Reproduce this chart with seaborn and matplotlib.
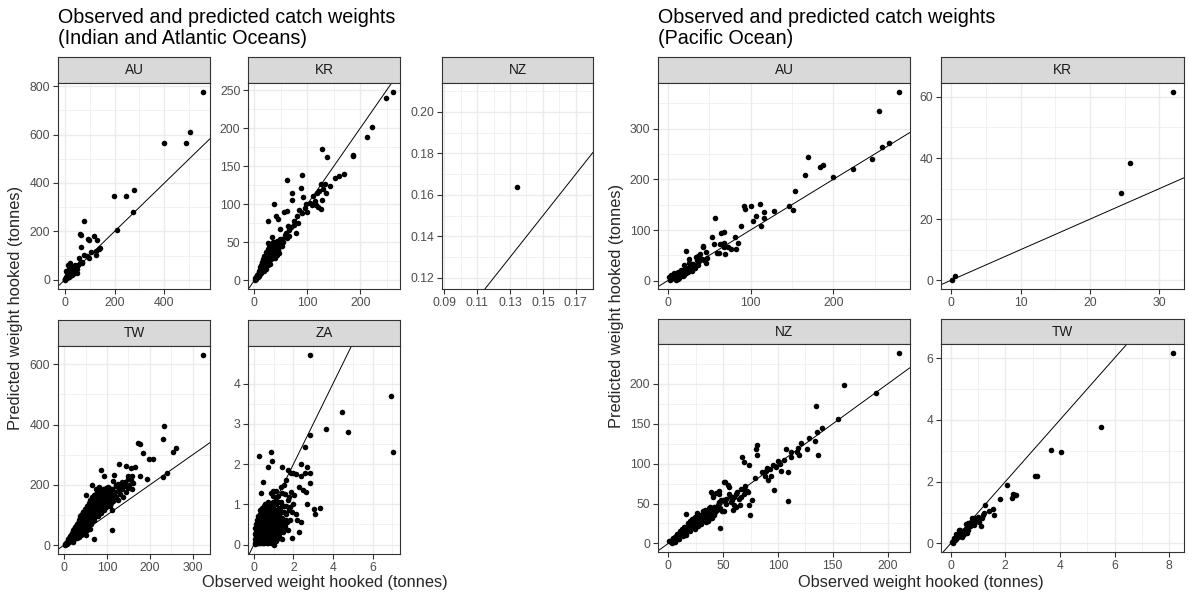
import numpy as np
import pandas as pd
import matplotlib
matplotlib.use("Agg")
import matplotlib.pyplot as plt
import seaborn as sns
from matplotlib.ticker import FixedLocator, FuncFormatter

# ---------------- DATA (observed, predicted in tonnes) ----------------
# Indian and Atlantic Oceans
ia_au_obs = [555, 397, 486, 501, 197, 245, 276, 273, 209, 78, 62, 64, 66, 92, 96, 118, 128, 78, 88, 99,
             139, 127, 126, 143, 107, 58, 69, 53, 20, 15, 45, 38, 30, 25, 20, 12, 8, 5, 3, 2, 10, 6, 28,
             35, 42, 50, 18, 22, 1, 4, 14, 32, 9, 12, 24, 60, 70, 40, 48, 16, 27]
ia_au_pred = [774, 566, 566, 609, 345, 345, 371, 279, 206, 243, 190, 186, 136, 168, 164, 181, 164, 102, 100, 89,
              127, 120, 102, 132, 116, 89, 75, 61, 68, 62, 55, 48, 40, 35, 28, 22, 15, 10, 5, 2, 30, 35, 20,
              30, 38, 45, 12, 18, 1, 8, 18, 25, 6, 35, 50, 70, 68, 60, 30, 45, 55]

ia_kr_obs = [1, 2, 3, 4, 5, 6, 7, 8, 9, 10, 10, 11, 12, 13, 14, 15, 16, 17, 18, 18, 19, 20, 21, 22, 22, 23, 24,
             25, 25, 26, 27, 28, 28, 29, 30, 30, 31, 32, 33, 34, 34, 35, 36, 37, 38, 39, 40, 41, 42, 43, 44,
             45, 46, 47, 48, 50, 52, 55, 33, 26,
             53, 61, 79, 48, 63, 44, 41, 26, 61, 56, 37, 71, 72, 61, 88, 90, 91, 110, 116, 128, 130, 136,
             134, 142, 152, 159, 170, 127, 138, 187, 187, 213, 223, 248, 262,
             60, 65, 70, 75, 80, 85, 90, 95, 100, 105, 115, 120, 125, 57, 66, 74, 82, 98, 108, 122, 125, 118]
ia_kr_pred = [1, 3, 2, 5, 7, 4, 9, 6, 12, 8, 14, 17, 10, 20, 13, 24, 16, 28, 12, 21, 32, 18, 26, 37, 15, 22, 30,
              41, 20, 34, 25, 44, 30, 37, 22, 48, 33, 28, 40, 45, 30, 36, 50, 32, 42, 29, 47, 38, 52, 34, 44,
              40, 48, 36, 55, 45, 54, 50, 57, 49,
              45, 56, 62, 67, 72, 80, 85, 78, 91, 90, 100, 106, 115, 132, 122, 138, 109, 111, 99, 106, 120, 115,
              127, 124, 134, 137, 140, 172, 162, 165, 163, 189, 202, 240, 247,
              62, 66, 70, 78, 85, 92, 88, 95, 90, 102, 104, 96, 94, 60, 58, 73, 76, 100, 99, 118, 126, 115]

ia_nz_obs = [0.1344]
ia_nz_pred = [0.164]

ia_tw_obs = [2, 3, 4, 5, 6, 7, 8, 9, 10, 10,
             12, 12, 13, 14, 15, 16, 16, 17, 18, 18, 19, 20, 20, 21,
             22, 22, 23, 24, 24, 25, 26, 26, 27, 28, 28, 29, 30, 30, 30,
             32, 32, 33, 34, 34, 35, 35, 36, 37, 38, 38, 39, 40, 40, 40,
             42, 42, 43, 44, 44, 45, 46, 46, 47, 48, 48, 49, 50, 50, 50,
             52, 52, 53, 54, 54, 55, 56, 56, 57, 58, 58, 59, 60, 60, 60,
             62, 62, 63, 64, 65, 65, 66, 67, 68, 68, 69, 70, 70, 70,
             72, 72, 74, 74, 75, 76, 77, 78, 78, 79, 80, 80, 80,
             82, 82, 84, 84, 85, 86, 87, 88, 88, 90, 90, 90,
             92, 93, 94, 95, 96, 97, 98, 99, 100, 100,
             102, 104, 105, 106, 108, 110, 110, 112, 114, 115,
             118, 120, 122, 125, 126, 130, 132, 135, 138, 140,
             142, 145, 148, 150, 152, 155, 158, 160,
             173, 176, 184, 198, 208, 233, 231, 260, 254, 231, 239, 194, 178, 157, 165, 129, 145, 158, 116,
             114, 125, 86, 94, 102, 106, 82, 74, 65, 52, 67, 111, 70, 32, 324, 111, 45, 38, 55, 60, 90, 100,
             120, 135, 150, 130]
ia_tw_pred = [2, 5, 3, 8, 5, 12, 7, 15, 9, 20,
              12, 25, 18, 30, 14, 22, 35, 28, 18, 40, 32, 24, 45, 12,
              30, 50, 38, 20, 55, 44, 28, 60, 48, 35, 65, 52, 25, 42, 70,
              58, 35, 75, 48, 28, 64, 85, 40, 55, 72, 90, 45, 62, 32, 100,
              80, 50, 95, 38, 68, 110, 55, 85, 100, 45, 75, 120, 60, 90, 35,
              105, 70, 130, 50, 85, 115, 62, 98, 140, 75, 110, 125, 55, 90, 150,
              100, 70, 135, 115, 80, 160, 95, 125, 110, 145, 85, 130, 100, 165,
              115, 150, 95, 135, 170, 120, 105, 145, 160, 130, 110, 175, 95,
              140, 120, 155, 185, 130, 105, 165, 145, 120, 150, 185, 170,
              135, 160, 115, 175, 145, 190, 125, 160, 140, 180,
              165, 150, 190, 130, 170, 155, 140, 185, 165, 145,
              175, 160, 195, 150, 180, 170, 200, 185, 160, 195,
              210, 175, 190, 220, 200, 215, 185, 205,
              339, 334, 305, 286, 286, 394, 352, 322, 308, 225, 239, 220, 229, 255, 259, 270, 261, 230, 234,
              214, 203, 250, 230, 192, 181, 192, 187, 198, 165, 150, 51, 21, 38, 629, 117, 110, 95, 130, 140,
              175, 180, 200, 210, 230, 190]

ia_za_obs = [0.05, 0.1, 0.1, 0.15, 0.15, 0.2, 0.2, 0.2, 0.25, 0.25, 0.3, 0.3, 0.3, 0.35, 0.35, 0.4, 0.4, 0.4,
             0.45, 0.45, 0.5, 0.5, 0.5, 0.5, 0.55, 0.6, 0.6, 0.6, 0.65, 0.65, 0.7, 0.7, 0.75, 0.75, 0.75, 0.8,
             0.8, 0.85, 0.85, 0.9, 0.9, 0.95, 0.95, 1.0, 1.0, 1.05, 1.05, 1.1, 1.1, 1.15, 1.15, 1.2, 1.25, 1.25,
             1.3, 1.35, 1.35, 1.4, 1.45, 1.5, 1.5, 1.55, 1.6, 1.65, 1.7, 1.75, 1.8, 0.15, 0.25, 0.35, 0.55,
             0.65, 0.85, 0.45, 0.1, 0.3, 1.2, 1.4, 0.05, 0.55, 0.7,
             0.12, 0.12, 0.12, 0.22, 0.22, 0.22, 0.22, 0.32, 0.32, 0.32, 0.32, 0.32, 0.42, 0.42, 0.42, 0.42,
             0.42, 0.52, 0.52, 0.52, 0.52, 0.52, 0.62, 0.62, 0.62, 0.62, 0.62, 0.72, 0.72, 0.72, 0.72, 0.72,
             0.82, 0.82, 0.82, 0.82, 0.82, 0.92, 0.92, 0.92, 0.92, 1.02, 1.02, 1.02, 1.02, 1.12, 1.12, 1.12,
             1.22, 1.22, 1.22, 1.32, 1.32, 1.32, 1.42, 1.42, 1.42, 1.52, 1.52, 1.62, 1.62,
             0.07, 0.07, 0.07, 0.17, 0.17, 0.17, 0.27, 0.27, 0.27, 0.37, 0.37, 0.37, 0.37, 0.47, 0.47, 0.47,
             0.57, 0.57, 0.57, 0.67, 0.67, 0.67, 0.67, 0.77, 0.77, 0.77, 0.77, 0.87, 0.87, 0.87, 0.87,
             0.97, 0.97, 0.97, 0.97, 1.07, 1.07, 1.07, 1.17, 1.17, 1.17, 1.27, 1.27, 1.27,
             2.86, 6.95, 7.04, 4.44, 3.64, 4.78, 2.84, 2.58, 0.27, 0.85, 0.90, 0.73, 1.41, 0.46, 0.36, 2.38,
             2.67, 2.86, 2.86, 2.6, 2.38, 2.3, 2.04, 2.5, 2.64, 1.87, 2.0, 2.12, 1.7, 1.62, 1.53, 1.36, 2.69,
             3.04, 3.09, 3.33, 2.3, 1.92, 1.04, 2.38, 2.12, 1.82, 1.70, 1.75, 1.44, 1.14, 0.99, 0.85, 1.2,
             1.55, 1.9, 2.0, 1.95, 2.2, 1.1, 0.95]
ia_za_pred = [0.02, 0.1, 0.3, 0.05, 0.2, 0.15, 0.4, 0.6, 0.05, 0.3, 0.2, 0.5, 0.75, 0.1, 0.4, 0.25, 0.6, 0.85,
              0.05, 0.45, 0.15, 0.3, 0.7, 0.95, 0.5, 0.1, 0.35, 0.8, 0.2, 0.6, 0.45, 0.9, 0.1, 0.3, 0.7, 0.55,
              1.0, 0.2, 0.4, 0.75, 0.6, 0.3, 1.05, 0.5, 0.85, 0.15, 0.65, 0.4, 1.0, 0.25, 0.75, 0.55, 0.9, 0.35,
              0.65, 0.45, 1.05, 0.8, 0.3, 0.6, 0.95, 0.45, 0.75, 0.55, 0.35, 0.85, 0.6, 0.45, 0.55, 0.65, 0.25,
              0.9, 0.9, 0.75, 0.2, 0.35, 0.2, 0.15, 0.15, 1.0, 1.05,
              0.12, 0.32, 0.52, 0.05, 0.25, 0.45, 0.7, 0.12, 0.3, 0.55, 0.65, 0.85, 0.15, 0.35, 0.5, 0.7,
              0.92, 0.05, 0.22, 0.4, 0.6, 0.82, 0.25, 0.45, 0.65, 0.9, 1.0, 0.05, 0.2, 0.35, 0.55, 0.8,
              0.1, 0.3, 0.45, 0.65, 0.85, 0.15, 0.4, 0.5, 0.95, 0.25, 0.35, 0.7, 1.0, 0.1, 0.55, 0.85,
              0.4, 0.7, 1.05, 0.3, 0.55, 0.85, 0.5, 0.65, 0.95, 0.35, 0.8, 0.6, 0.95,
              0.05, 0.25, 0.4, 0.1, 0.35, 0.6, 0.15, 0.4, 0.65, 0.05, 0.3, 0.5, 0.75, 0.2, 0.6, 0.85,
              0.12, 0.4, 0.7, 0.05, 0.3, 0.5, 0.8, 0.15, 0.45, 0.62, 0.95, 0.05, 0.25, 0.55, 0.75,
              0.1, 0.45, 0.65, 0.9, 0.3, 0.5, 0.8, 0.15, 0.45, 0.65, 0.2, 0.5, 0.75,
              4.70, 3.69, 2.29, 3.29, 2.87, 2.80, 2.72, 2.42, 2.20, 2.29, 2.07, 1.93, 1.93, 1.56, 1.27, 2.0,
              1.93, 1.78, 1.53, 1.78, 1.70, 1.43, 1.23, 1.35, 1.31, 1.79, 1.79, 1.76, 1.85, 1.60, 1.47, 1.43,
              1.02, 0.88, 0.77, 0.92, 0.31, 0.17, 0.0, 0.56, 0.77, 0.94, 1.10, 1.18, 1.28, 1.33, 1.33, 1.27,
              1.2, 1.25, 1.3, 1.0, 0.8, 0.6, 1.15, 1.2]

# Pacific Ocean
po_au_obs = [279, 255, 268, 259, 247, 224, 200, 188, 184, 169, 166, 154, 151, 146, 129, 116, 116, 113, 111,
             107, 103, 92, 93, 100, 89, 81, 85, 82, 68, 68, 69, 68, 64, 63, 62, 59, 57, 56, 53, 73, 76, 46,
             46, 42, 42, 39, 37, 41, 34, 31, 22, 26, 29,
             5, 10, 15, 20, 25, 28, 12, 8, 18, 3, 6, 22, 30, 35, 32, 16, 14, 24, 10, 2, 4, 26, 20,
             7, 9, 11, 13, 17, 19, 21, 23, 27, 29, 33, 36, 38, 44, 48, 12, 4, 16]
po_au_pred = [372, 336, 272, 264, 240, 220, 205, 228, 224, 244, 208, 178, 139, 147, 138, 135, 124, 108, 151,
              128, 117, 148, 142, 148, 108, 86, 74, 63, 97, 66, 53, 74, 94, 72, 55, 54, 124, 72, 86, 67, 63,
              56, 34, 69, 66, 53, 49, 43, 46, 33, 59, 43, 20,
              5, 8, 12, 20, 25, 30, 18, 15, 10, 2, 10, 15, 28, 40, 30, 22, 5, 18, 2, 8, 12, 35, 30,
              12, 5, 14, 8, 16, 12, 24, 20, 26, 32, 25, 30, 38, 40, 45, 3, 4, 19]

po_kr_obs = [31.95, 25.77, 24.47, 0.6, 0.14]
po_kr_pred = [61.5, 38.4, 28.4, 1.3, 0.2]

po_nz_obs = [210, 160.2, 189.3, 154.7, 134.8, 133.8, 128.6, 140, 136, 121, 126.2, 136.9, 119.1, 117, 111.5,
             107.2, 109, 103.2, 109.4, 105.6, 100.2, 95.6, 92.5, 89.4, 94, 91, 96.2, 80.9, 80.2, 80.5, 66.8,
             68.6, 73.5, 78.7, 65.9, 69.5, 72.6, 68.6, 76.3, 73.8, 74.1, 51.8, 54, 55.7, 43.5, 45.9, 40.4,
             46.5, 49.6, 52.7, 57.3, 61.9, 65, 58.8, 47.5, 51.2, 40.4, 46.6, 39.2, 50.8, 16.5,
             2, 5, 8, 10, 12, 15, 17, 20, 22, 25, 27, 30, 32, 35, 38, 40, 42, 44, 12, 18, 22, 28, 32, 8, 16,
             24, 30, 36, 42, 38, 26, 20, 14, 6, 3, 9, 11, 17, 21, 27, 33, 40, 44, 46, 4, 7, 13, 19, 24, 29,
             34, 37, 56, 60, 62, 64,
             1, 3, 4, 6, 7, 9, 10, 11, 13, 14, 15, 16, 18, 19, 20, 21, 23, 23, 24, 25, 26, 27, 28, 29, 30,
             31, 32, 33, 34, 35, 36, 37, 38, 39, 41, 42, 43, 45, 47, 48, 49, 53, 55, 58, 60, 63, 66, 70, 72,
             85, 88, 90, 98, 102, 112, 118]
po_nz_pred = [238.3, 198.7, 189, 156, 172.4, 128.2, 132.8, 145.3, 140, 126.3, 119, 110.7, 111, 114.9, 114.9,
              118.7, 90, 90.5, 52.6, 104.4, 103.5, 98, 93.9, 91, 84, 79, 67.4, 123.4, 118.3, 110.7, 108.6,
              101.5, 98, 82.1, 68.6, 66.5, 64.4, 62.3, 54.7, 48, 35.8, 76.6, 72.8, 70.7, 63.2, 61.5, 58.1,
              50.2, 54.4, 56, 51.9, 45.5, 47.6, 41.3, 19.8, 40, 61, 65.6, 64.4, 77, 37,
              2, 5, 8, 10, 12, 14, 17, 20, 22, 25, 27, 30, 32, 35, 38, 40, 42, 44, 18, 25, 30, 35, 40, 12, 10,
              18, 24, 28, 35, 45, 38, 28, 20, 2, 4, 7, 15, 15, 24, 22, 30, 32, 42, 52, 5, 9, 11, 22, 20, 26,
              38, 30, 60, 58, 62, 56,
              3, 1, 7, 8, 4, 11, 6, 13, 9, 16, 20, 13, 16, 22, 15, 27, 20, 28, 33, 22, 30, 35, 27, 24, 36,
              28, 34, 42, 27, 31, 38, 44, 34, 40, 37, 46, 39, 48, 44, 55, 40, 50, 62, 55, 48, 65, 58, 72, 66,
              90, 85, 95, 96, 100, 108, 120]

po_tw_obs = [8.14, 5.51, 3.67, 4.04, 3.08, 3.17, 2.08, 2.28, 2.34, 2.40, 2.25, 1.80, 1.24, 1.55, 1.40, 1.57,
             1.22, 1.18, 1.16, 1.10, 1.02, 0.86, 0.78, 0.83, 0.69, 0.57, 0.45,
             0.05, 0.1, 0.15, 0.2, 0.25, 0.3, 0.35, 0.4, 0.45, 0.5, 0.55, 0.6, 0.65, 0.7, 0.75, 0.8, 0.9,
             0.95, 1.0, 0.3, 0.35, 0.2, 0.25, 0.6, 0.5, 0.65, 0.7, 0.85, 0.12, 0.08, 0.4, 0.45, 0.55, 0.62]
po_tw_pred = [6.15, 3.76, 3.02, 2.96, 2.17, 2.17, 1.88, 1.59, 1.56, 1.58, 1.48, 1.45, 1.24, 1.11, 1.05, 0.91,
              1.0, 0.91, 0.84, 0.57, 0.68, 0.84, 0.84, 0.68, 0.57, 0.46, 0.35,
              0.05, 0.08, 0.12, 0.15, 0.2, 0.25, 0.3, 0.3, 0.4, 0.4, 0.45, 0.5, 0.6, 0.65, 0.7, 0.75, 0.7,
              0.8, 0.85, 0.45, 0.42, 0.3, 0.25, 0.35, 0.3, 0.42, 0.55, 0.6, 0.18, 0.03, 0.2, 0.28, 0.62, 0.66]

# tick breaks (labels) per panel
ia_au_xt, ia_au_yt = [0, 200, 400], [0, 200, 400, 600, 800]
ia_kr_xt, ia_kr_yt = [0, 100, 200], [0, 50, 100, 150, 200, 250]
ia_nz_xt, ia_nz_yt = [0.09, 0.11, 0.13, 0.15, 0.17], [0.12, 0.14, 0.16, 0.18, 0.20]
ia_tw_xt, ia_tw_yt = [0, 100, 200, 300], [0, 200, 400, 600]
ia_za_xt, ia_za_yt = [0, 2, 4, 6], [0, 1, 2, 3, 4]
po_au_xt, po_au_yt = [0, 100, 200], [0, 100, 200, 300]
po_kr_xt, po_kr_yt = [0, 10, 20, 30], [0, 20, 40, 60]
po_nz_xt, po_nz_yt = [0, 50, 100, 150, 200], [0, 50, 100, 150, 200]
po_tw_xt, po_tw_yt = [0, 2, 4, 6, 8], [0, 2, 4, 6]

# ---------------- STYLE ----------------
sns.set_theme(style="white")
plt.rcParams['font.family'] = ['Liberation Sans', 'DejaVu Sans']

W, H = 1189, 597
fig = plt.figure(figsize=(W / 100, H / 100), dpi=100)

BORDER = '#333333'
GRID = '#EBEBEB'


def px_axes(x0, y0, x1, y1):
    return fig.add_axes([x0 / W, 1 - y1 / H, (x1 - x0) / W, (y1 - y0) / H])


def minor_from(ticks):
    t = np.asarray(ticks, dtype=float)
    step = t[1] - t[0]
    return list(np.concatenate([[t[0] - step / 2], (t[:-1] + t[1:]) / 2, [t[-1] + step / 2]]))


def expand(vals, lims=None):
    if lims is not None:
        return lims
    lo, hi = min(vals), max(vals)
    r = hi - lo
    return lo - 0.05 * r, hi + 0.05 * r


def panel(label, obs, pred, box, xt, yt, fmt='%g', xlim=None, ylim=None):
    left, right, stop, sbot, pbot = box
    # strip
    sax = px_axes(left, stop, right, sbot)
    sax.set_facecolor('#D9D9D9')
    sax.set_xticks([]); sax.set_yticks([])
    for s in sax.spines.values():
        s.set_color(BORDER); s.set_linewidth(0.8)
    sax.text(0.5, 0.5, label, ha='center', va='center', fontsize=9.8, color='#1A1A1A',
             transform=sax.transAxes)
    # panel
    ax = px_axes(left, sbot, right, pbot)
    ax.set_facecolor('white')
    df = pd.DataFrame({'obs': obs, 'pred': pred})
    sns.scatterplot(data=df, x='obs', y='pred', ax=ax, color='black', s=16, linewidth=0, zorder=3)
    ax.axline((0, 0), slope=1, color='black', lw=0.7, zorder=2)
    ax.set_xlim(*expand(obs, xlim))
    ax.set_ylim(*expand(pred, ylim))
    ax.xaxis.set_major_locator(FixedLocator(xt))
    ax.yaxis.set_major_locator(FixedLocator(yt))
    ax.xaxis.set_minor_locator(FixedLocator(minor_from(xt)))
    ax.yaxis.set_minor_locator(FixedLocator(minor_from(yt)))
    f = FuncFormatter(lambda v, p: fmt % v)
    ax.xaxis.set_major_formatter(f)
    ax.yaxis.set_major_formatter(f)
    ax.grid(which='major', color=GRID, lw=1.0, zorder=0)
    ax.grid(which='minor', color=GRID, lw=0.5, zorder=0)
    ax.set_axisbelow(True)
    ax.set_xlabel(''); ax.set_ylabel('')
    for s in ax.spines.values():
        s.set_color(BORDER); s.set_linewidth(0.8)
    ax.tick_params(which='major', direction='out', length=3.5, width=0.8, color=BORDER,
                   labelsize=8.8, labelcolor='#4D4D4D', pad=2, bottom=True, left=True)
    ax.tick_params(which='minor', length=0)
    return ax


# Indian and Atlantic Oceans
panel('AU', ia_au_obs, ia_au_pred, (58, 210, 57, 83, 289), ia_au_xt, ia_au_yt)
panel('KR', ia_kr_obs, ia_kr_pred, (248, 400, 57, 83, 289), ia_kr_xt, ia_kr_yt)
panel('NZ', ia_nz_obs, ia_nz_pred, (442, 593, 57, 83, 289), ia_nz_xt, ia_nz_yt, fmt='%.2f',
      xlim=(0.0886, 0.1805), ylim=(0.1147, 0.2139))
panel('TW', ia_tw_obs, ia_tw_pred, (58, 210, 320, 346, 554), ia_tw_xt, ia_tw_yt)
panel('ZA', ia_za_obs, ia_za_pred, (248, 400, 320, 346, 554), ia_za_xt, ia_za_yt)

# Pacific Ocean
panel('AU', po_au_obs, po_au_pred, (658, 910, 57, 83, 289), po_au_xt, po_au_yt)
panel('KR', po_kr_obs, po_kr_pred, (941, 1184, 57, 83, 289), po_kr_xt, po_kr_yt)
panel('NZ', po_nz_obs, po_nz_pred, (658, 910, 319, 344, 552), po_nz_xt, po_nz_yt)
panel('TW', po_tw_obs, po_tw_pred, (941, 1184, 319, 344, 552), po_tw_xt, po_tw_yt)

# titles and axis labels
fig.text(58 / W, 1 - 8 / H, "Observed and predicted catch weights\n(Indian and Atlantic Oceans)",
         ha='left', va='top', fontsize=14.2, color='black', linespacing=1.13)
fig.text(658 / W, 1 - 8 / H, "Observed and predicted catch weights\n(Pacific Ocean)",
         ha='left', va='top', fontsize=14.2, color='black', linespacing=1.13)
fig.text(325 / W, 1 - 582 / H, "Observed weight hooked (tonnes)", ha='center', va='center', fontsize=11.8)
fig.text(921 / W, 1 - 582 / H, "Observed weight hooked (tonnes)", ha='center', va='center', fontsize=11.8)
fig.text(16 / W, 1 - 308 / H, "Predicted weight hooked (tonnes)", ha='center', va='center',
         rotation=90, fontsize=11.8)
fig.text(616 / W, 1 - 306 / H, "Predicted weight hooked (tonnes)", ha='center', va='center',
         rotation=90, fontsize=11.8)

fig.savefig('out.png', dpi=100, facecolor='white')
